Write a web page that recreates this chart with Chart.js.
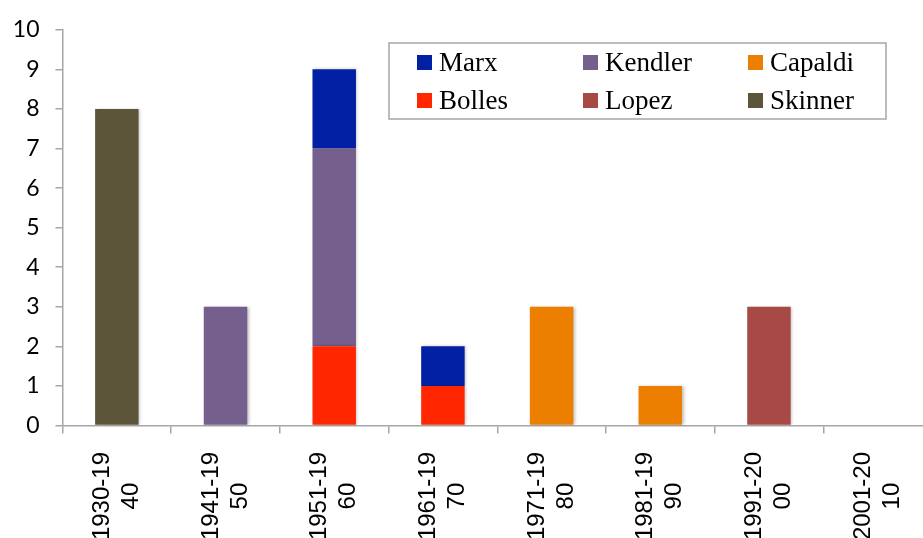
<!DOCTYPE html>
<html>
<head>
<meta charset="utf-8">
<script src="https://cdn.jsdelivr.net/npm/chart.js@4"></script>
<style>
  html, body { margin: 0; padding: 0; background: #fff; overflow: hidden; }
  #wrap { width: 923px; height: 538px; overflow: hidden; }
</style>
</head>
<body>
<div id="wrap"><canvas id="chart" width="932" height="538"></canvas></div>
<script>
// decades, split in two lines like the axis labels
const decades = [
  ['1930-19', '40'], ['1941-19', '50'], ['1951-19', '60'], ['1961-19', '70'],
  ['1971-19', '80'], ['1981-19', '90'], ['1991-20', '00'], ['2001-20', '10']
];

// counts per person and decade
const bolles  = [0, 0, 2, 1, 0, 0, 0, 0];
const kendler = [0, 3, 5, 0, 0, 0, 0, 0];
const marx    = [0, 0, 2, 1, 0, 0, 0, 0];
const capaldi = [0, 0, 0, 0, 3, 1, 0, 0];
const lopez   = [0, 0, 0, 0, 0, 0, 3, 0];
const skinner = [8, 0, 0, 0, 0, 0, 0, 0];

const yTicks = [0, 1, 2, 3, 4, 5, 6, 7, 8, 9, 10];

// legend grid order (row by row)
const legendOrder = ['Marx', 'Kendler', 'Capaldi', 'Bolles', 'Lopez', 'Skinner'];

const axisGray = '#a6a6a6';

// draws the boxed 3x2 legend inside the plot
const gridLegend = {
  id: 'gridLegend',
  afterDraw(chart) {
    const ctx = chart.ctx;
    const box = { x: 389, y: 43, w: 497, h: 76 };
    ctx.save();
    ctx.fillStyle = '#fff';
    ctx.fillRect(box.x, box.y, box.w, box.h);
    ctx.strokeStyle = axisGray;
    ctx.lineWidth = 1.5;
    ctx.strokeRect(box.x, box.y, box.w, box.h);
    ctx.font = '27px "Liberation Serif"';
    ctx.textBaseline = 'middle';
    ctx.textAlign = 'left';
    const colX = [417, 583, 748];
    const rowY = [62.5, 100.5];
    legendOrder.forEach((name, i) => {
      const ds = chart.data.datasets.find(d => d.label === name);
      const x = colX[i % 3], y = rowY[Math.floor(i / 3)];
      ctx.fillStyle = ds.backgroundColor;
      ctx.fillRect(x, y - 7.5, 15, 15);
      ctx.fillStyle = '#000';
      ctx.fillText(name, x + 22, y + 1);
    });
    ctx.restore();
  }
};

// vertical two-line category labels, lines centred on each other
const xLabels = {
  id: 'xLabels',
  afterDraw(chart) {
    const ctx = chart.ctx;
    const xs = chart.scales.x;
    ctx.save();
    ctx.font = '24px "Liberation Sans"';
    ctx.fillStyle = '#000';
    ctx.textAlign = 'center';
    ctx.textBaseline = 'middle';
    chart.data.labels.forEach((lines, i) => {
      const x = xs.getPixelForValue(i);
      const longest = Math.max(...lines.map(l => ctx.measureText(l).width));
      const cy = xs.top + 26.5 + longest / 2;
      ctx.save();
      ctx.translate(x, cy);
      ctx.rotate(-Math.PI / 2);
      lines.forEach((l, j) => {
        ctx.fillText(l, 0, (j - (lines.length - 1) / 2) * 29);
      });
      ctx.restore();
    });
    ctx.restore();
  }
};

// soft shadow behind bars
const barShadow = {
  id: 'barShadow',
  beforeDatasetsDraw(chart) {
    const ctx = chart.ctx;
    ctx.save();
    ctx.shadowColor = 'rgba(0,0,0,0.25)';
    ctx.shadowBlur = 3;
    ctx.shadowOffsetX = 1.5;
    ctx.shadowOffsetY = 0;
  },
  afterDatasetsDraw(chart) {
    chart.ctx.restore();
  }
};

function series(label, data, color) {
  return {
    label: label,
    data: data,
    backgroundColor: color,
    borderWidth: 0,
    categoryPercentage: 0.4,
    barPercentage: 1
  };
}

new Chart(document.getElementById('chart'), {
  type: 'bar',
  data: {
    labels: decades,
    datasets: [
      series('Skinner', skinner, '#5d553a'),
      series('Bolles', bolles, '#ff2600'),
      series('Kendler', kendler, '#755f8c'),
      series('Marx', marx, '#0220a3'),
      series('Capaldi', capaldi, '#ec7f00'),
      series('Lopez', lopez, '#a74a45')
    ]
  },
  options: {
    responsive: false,
    animation: false,
    layout: { padding: { top: 25, left: 0, right: 0, bottom: 0 } },
    plugins: {
      legend: { display: false },
      tooltip: { enabled: false }
    },
    scales: {
      x: {
        stacked: true,
        afterFit: s => { s.height = 112.5; },
        border: { color: axisGray, width: 1.5 },
        grid: {
          offset: true,
          drawOnChartArea: false,
          drawTicks: true,
          tickLength: 8,
          color: axisGray,
          lineWidth: 1.5
        },
        ticks: { display: false }
      },
      y: {
        stacked: true,
        min: 0,
        max: 10,
        afterFit: s => { s.width = 62.5; },
        afterBuildTicks: s => { s.ticks = yTicks.map(v => ({ value: v })); },
        border: { color: axisGray, width: 1.5 },
        grid: {
          drawOnChartArea: false,
          drawTicks: true,
          tickLength: 7,
          color: axisGray,
          lineWidth: 1.5
        },
        ticks: {
          color: '#000',
          padding: 16,
          font: { family: 'Lato', size: 23 }
        }
      }
    }
  },
  plugins: [barShadow, xLabels, gridLegend]
});
</script>
</body>
</html>
